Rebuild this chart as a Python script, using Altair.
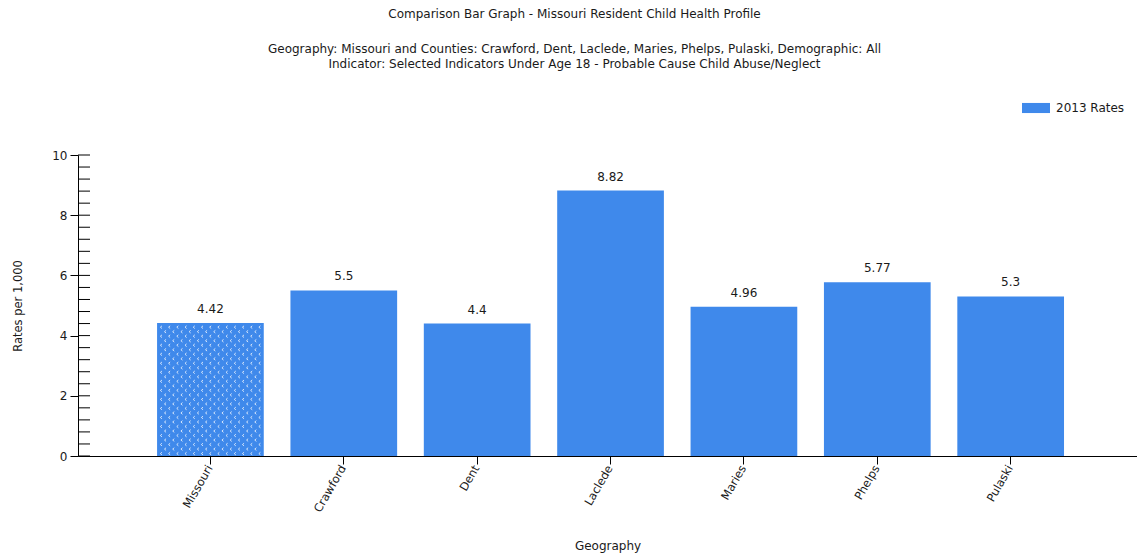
import altair as alt
import numpy as np
import pandas as pd

# Rates per 1,000 children, 2013
geographies = ["Missouri", "Crawford", "Dent", "Laclede", "Maries", "Phelps", "Pulaski"]
rates_2013 = [4.42, 5.5, 4.4, 8.82, 4.96, 5.77, 5.3]
rate_labels = ["4.42", "5.5", "4.4", "8.82", "4.96", "5.77", "5.3"]
series_name = "2013 Rates"

y_major_ticks = [0, 2, 4, 6, 8, 10]
y_minor_ticks = [0, 0.4, 0.8, 1.2, 1.6, 2, 2.4, 2.8, 3.2, 3.6, 4, 4.4, 4.8,
                 5.2, 5.6, 6, 6.4, 6.8, 7.2, 7.6, 8, 8.4, 8.8, 9.2, 9.6, 10]

BLUE = "#3f89eb"
FONT = "DejaVu Sans"
INK = "#1a1a1a"

PLOT_W = 1059
PLOT_H = 301
PAD_INNER = 0.2
PAD_OUTER = 0.57
ALIGN = 0.52

bars_df = pd.DataFrame({
    "geo": geographies,
    "rate": rates_2013,
    "label": rate_labels,
    "series": [series_name] * len(geographies),
})
minor_df = pd.DataFrame({"v": y_minor_ticks})

# Linear "slot" scale that lines up with the band scale: slot i is the centre of bar i
n = len(geographies)
step = PLOT_W / (n - PAD_INNER + 2 * PAD_OUTER)
start = (PLOT_W - step * (n - PAD_INNER)) * ALIGN
centre0 = start + step * (1 - PAD_INNER) / 2
slot_lo = -centre0 / step
slot_hi = slot_lo + PLOT_W / step
half_bar = (1 - PAD_INNER) / 2

# State-level bar gets a dotted hatch texture: staggered rows of small chevrons
state_rate = rates_2013[0]
hatch_rows = []
for k, v in enumerate(np.arange(0.08, state_rate - 0.05, 0.15)):
    cols = np.linspace(-half_bar, half_bar, 27)[1:-1]
    for j, u in enumerate(cols):
        if j % 2 == k % 2:
            hatch_rows.append({"u": float(u), "v": float(v)})
hatch_df = pd.DataFrame(hatch_rows)

x_enc = alt.X(
    "geo:N",
    sort=geographies,
    scale=alt.Scale(paddingInner=PAD_INNER, paddingOuter=PAD_OUTER, align=ALIGN),
    axis=alt.Axis(
        title="Geography",
        labelAngle=-60,
        labelAlign="right",
        labelBaseline="middle",
        labelPadding=2,
        labelFontSize=11.5,
        labelColor=INK,
        tickSize=8,
        tickColor="#000",
        domainColor="#000",
        titleFontSize=12,
        titleFontWeight="normal",
        titleColor=INK,
        titlePadding=27,
        grid=False,
    ),
)
y_enc = alt.Y(
    "rate:Q",
    scale=alt.Scale(domain=[0, 10], nice=False),
    axis=alt.Axis(
        title="Rates per 1,000",
        values=y_major_ticks,
        tickSize=8,
        tickColor="#000",
        domainColor="#000",
        labelFontSize=12,
        labelColor=INK,
        labelPadding=3,
        titleFontSize=11.5,
        titleFontWeight="normal",
        titleColor=INK,
        titlePadding=28,
        grid=False,
    ),
)

bars = alt.Chart(bars_df).mark_bar(color=BLUE).encode(
    x=x_enc,
    y=y_enc,
    color=alt.Color(
        "series:N",
        scale=alt.Scale(range=[BLUE]),
        legend=alt.Legend(
            title=None,
            orient="none",
            legendX=944,
            legendY=-61,
            symbolType="M-1,-0.36H1V0.36H-1Z",
            symbolSize=784,
            symbolStrokeWidth=0,
            labelFontSize=12,
            labelColor=INK,
            labelOffset=6,
        ),
    ),
)

values = alt.Chart(bars_df).mark_text(dy=-14, fontSize=12, color=INK, font=FONT).encode(
    x=alt.X("geo:N", sort=geographies),
    y=alt.Y("rate:Q"),
    text="label:N",
)

minor_ticks = alt.Chart(minor_df).mark_rule(color="#000", strokeWidth=1).encode(
    y=alt.Y("v:Q"),
    x=alt.value(0),
    x2=alt.value(12),
)

hatch = alt.Chart(hatch_df).mark_point(
    shape="M0.6,-1L-0.6,0L0.6,1",
    filled=False,
    stroke="white",
    strokeWidth=0.9,
    size=7,
    opacity=0.85,
).encode(
    x=alt.X("u:Q", scale=alt.Scale(domain=[slot_lo, slot_hi], nice=False, zero=False), axis=None),
    y=alt.Y("v:Q"),
)

main = alt.layer(bars, values, minor_ticks)

chart = (
    alt.layer(main, hatch)
    .resolve_scale(x="independent")
    .properties(
        width=PLOT_W,
        height=PLOT_H,
        autosize=alt.AutoSizeParams(type="none"),
        padding={"left": 78, "top": 155, "right": 0, "bottom": 98},
        title=alt.TitleParams(
            text="Comparison Bar Graph - Missouri Resident Child Health Profile",
            subtitle=[
                "Geography: Missouri and Counties: Crawford, Dent, Laclede, Maries, Phelps, Pulaski, Demographic: All",
                "Indicator: Selected Indicators Under Age 18 - Probable Cause Child Abuse/Neglect",
            ],
            anchor="middle",
            dx=-33,
            fontSize=12,
            fontWeight="normal",
            color=INK,
            subtitleFontSize=12,
            subtitleColor=INK,
            subtitlePadding=23,
            subtitleLineHeight=15,
            offset=23,
        ),
    )
    .configure(font=FONT)
    .configure_view(stroke=None)
)

chart.save("out.html", embed_options={"renderer": "svg", "actions": False})
